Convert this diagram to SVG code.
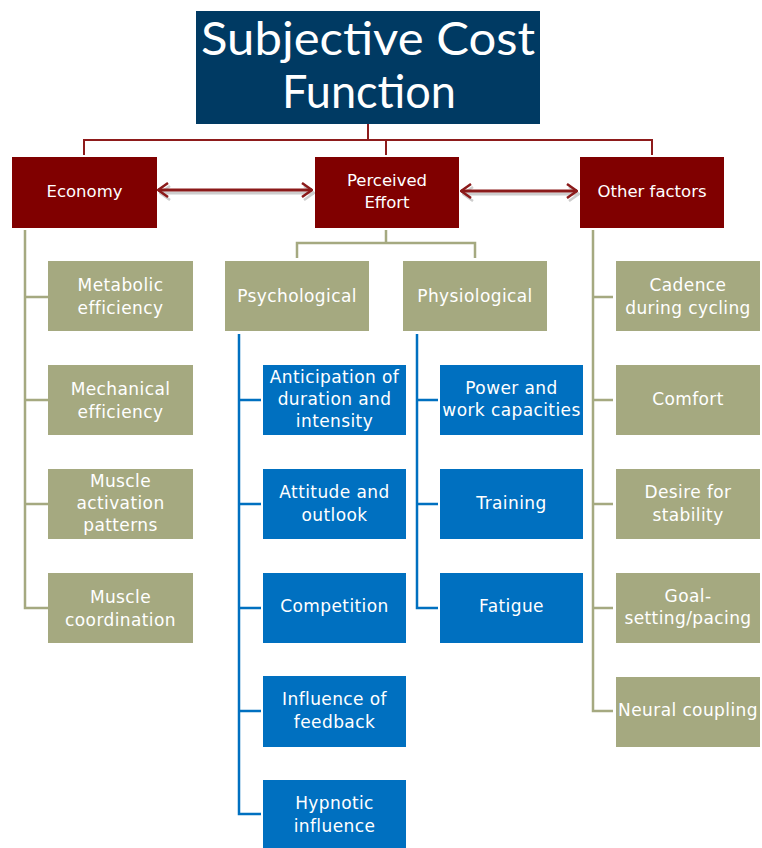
<svg xmlns="http://www.w3.org/2000/svg" width="762" height="848" viewBox="0 0 762 848">
<defs>
<style>
.t{font-family:"DejaVu Sans","Noto Sans",sans-serif;font-size:17px;fill:#ffffff;text-anchor:middle;letter-spacing:0.4px}
.h{font-family:"DejaVu Sans","Noto Sans",sans-serif;font-size:16.5px;fill:#ffffff;text-anchor:middle}
.ti{font-family:"Lato","DejaVu Sans",sans-serif;font-size:47px;fill:#ffffff;text-anchor:middle}
.red{fill:#800000}
.ol{fill:#A5A980}
.bl{fill:#0070C0}
.lr{stroke:#8E1B1B;stroke-width:2;fill:none}
.lo{stroke:#A5A980;stroke-width:2.5;fill:none}
.lb{stroke:#0070C0;stroke-width:2.5;fill:none}
.ar{stroke:#8B1A1A;stroke-width:3;fill:none}
.sh{stroke:#b8b8b8;stroke-width:3;fill:none;opacity:0.7}
</style>
<marker id="ah" viewBox="0 0 12 16" refX="11" refY="8" markerWidth="12" markerHeight="16" markerUnits="userSpaceOnUse" orient="auto-start-reverse">
<path d="M1,1 L11,8 L1,15" stroke="#8B1A1A" stroke-width="2.5" fill="none"/>
</marker>
<marker id="ahs" viewBox="0 0 12 16" refX="11" refY="8" markerWidth="12" markerHeight="16" markerUnits="userSpaceOnUse" orient="auto-start-reverse">
<path d="M1,1 L11,8 L1,15" stroke="#b8b8b8" stroke-width="2.5" fill="none"/>
</marker>
</defs>

<g id="connectors">
<path class="lr" d="M368,124 V140 M84,155 V140 H652 V155 M386,140 V155"/>
<path class="sh" d="M160,193 H314" marker-start="url(#ahs)" marker-end="url(#ahs)"/>
<path class="ar" d="M158,190 H312" marker-start="url(#ah)" marker-end="url(#ah)"/>
<path class="sh" d="M463,194 H579" marker-start="url(#ahs)" marker-end="url(#ahs)"/>
<path class="ar" d="M461,191 H577" marker-start="url(#ah)" marker-end="url(#ah)"/>
<path class="lo" d="M25,230 V608 H48 M25,297 H48 M25,400 H48 M25,504 H48"/>
<path class="lo" d="M386,230 V243 M297,258 V243 H475 V258"/>
<path class="lo" d="M593,230 V711 H613 M593,297 H613 M593,400 H613 M593,504 H613 M593,608 H613"/>
<path class="lb" d="M239,334 V814 H261 M239,400 H261 M239,504 H261 M239,608 H261 M239,711 H261"/>
<path class="lb" d="M417,334 V608 H438 M417,400 H438 M417,504 H438"/>
</g>

<g id="title">
<rect x="196" y="11" width="344" height="113" fill="#003A63"/>
<text class="ti" x="368" y="55" textLength="334" lengthAdjust="spacingAndGlyphs">Subjective Cost</text>
<text class="ti" x="369" y="108" textLength="174" lengthAdjust="spacingAndGlyphs">Function</text>
</g>

<g id="economy"><rect class="red" x="12" y="157" width="145" height="71"/><text class="h" x="84.5" y="197">Economy</text></g>
<g id="perceived-effort"><rect class="red" x="315" y="157" width="144" height="71"/><text class="h" x="387" y="186">Perceived</text><text class="h" x="387" y="208">Effort</text></g>
<g id="other-factors"><rect class="red" x="580" y="157" width="144" height="71"/><text class="h" x="652" y="197">Other factors</text></g>

<g id="metabolic"><rect class="ol" x="48" y="261" width="145" height="70"/><text class="t" x="120.5" y="291">Metabolic</text><text class="t" x="120.5" y="313.5">efficiency</text></g>
<g id="mechanical"><rect class="ol" x="48" y="365" width="145" height="70"/><text class="t" x="120.5" y="395">Mechanical</text><text class="t" x="120.5" y="417.5">efficiency</text></g>
<g id="muscle-activation"><rect class="ol" x="48" y="469" width="145" height="70"/><text class="t" x="120.5" y="487">Muscle</text><text class="t" x="120.5" y="509">activation</text><text class="t" x="120.5" y="531">patterns</text></g>
<g id="muscle-coordination"><rect class="ol" x="48" y="573" width="145" height="70"/><text class="t" x="120.5" y="603">Muscle</text><text class="t" x="120.5" y="625.5">coordination</text></g>

<g id="psychological"><rect class="ol" x="225" y="261" width="144" height="70"/><text class="t" x="297" y="302">Psychological</text></g>
<g id="physiological"><rect class="ol" x="403" y="261" width="144" height="70"/><text class="t" x="475" y="302">Physiological</text></g>

<g id="anticipation"><rect class="bl" x="263" y="365" width="143" height="70"/><text class="t" x="334.5" y="383">Anticipation of</text><text class="t" x="334.5" y="405">duration and</text><text class="t" x="334.5" y="427">intensity</text></g>
<g id="attitude"><rect class="bl" x="263" y="469" width="143" height="70"/><text class="t" x="334.5" y="498">Attitude and</text><text class="t" x="334.5" y="520.5">outlook</text></g>
<g id="competition"><rect class="bl" x="263" y="573" width="143" height="70"/><text class="t" x="334.5" y="612">Competition</text></g>
<g id="feedback"><rect class="bl" x="263" y="676" width="143" height="71"/><text class="t" x="334.5" y="705">Influence of</text><text class="t" x="334.5" y="727.5">feedback</text></g>
<g id="hypnotic"><rect class="bl" x="263" y="780" width="143" height="70"/><text class="t" x="334.5" y="809">Hypnotic</text><text class="t" x="334.5" y="831.5">influence</text></g>

<g id="power"><rect class="bl" x="440" y="365" width="143" height="70"/><text class="t" x="511.5" y="393.5">Power and</text><text class="t" x="511.5" y="416">work capacities</text></g>
<g id="training"><rect class="bl" x="440" y="469" width="143" height="70"/><text class="t" x="511.5" y="509">Training</text></g>
<g id="fatigue"><rect class="bl" x="440" y="573" width="143" height="70"/><text class="t" x="511.5" y="612">Fatigue</text></g>

<g id="cadence"><rect class="ol" x="616" y="261" width="144" height="70"/><text class="t" x="688" y="291">Cadence</text><text class="t" x="688" y="313.5">during cycling</text></g>
<g id="comfort"><rect class="ol" x="616" y="365" width="144" height="70"/><text class="t" x="688" y="405">Comfort</text></g>
<g id="desire"><rect class="ol" x="616" y="469" width="144" height="70"/><text class="t" x="688" y="498">Desire for</text><text class="t" x="688" y="520.5">stability</text></g>
<g id="goal-setting"><rect class="ol" x="616" y="573" width="144" height="70"/><text class="t" x="688" y="602">Goal-</text><text class="t" x="688" y="624">setting/pacing</text></g>
<g id="neural-coupling"><rect class="ol" x="616" y="677" width="144" height="70"/><text class="t" x="688" y="716">Neural coupling</text></g>
</svg>
